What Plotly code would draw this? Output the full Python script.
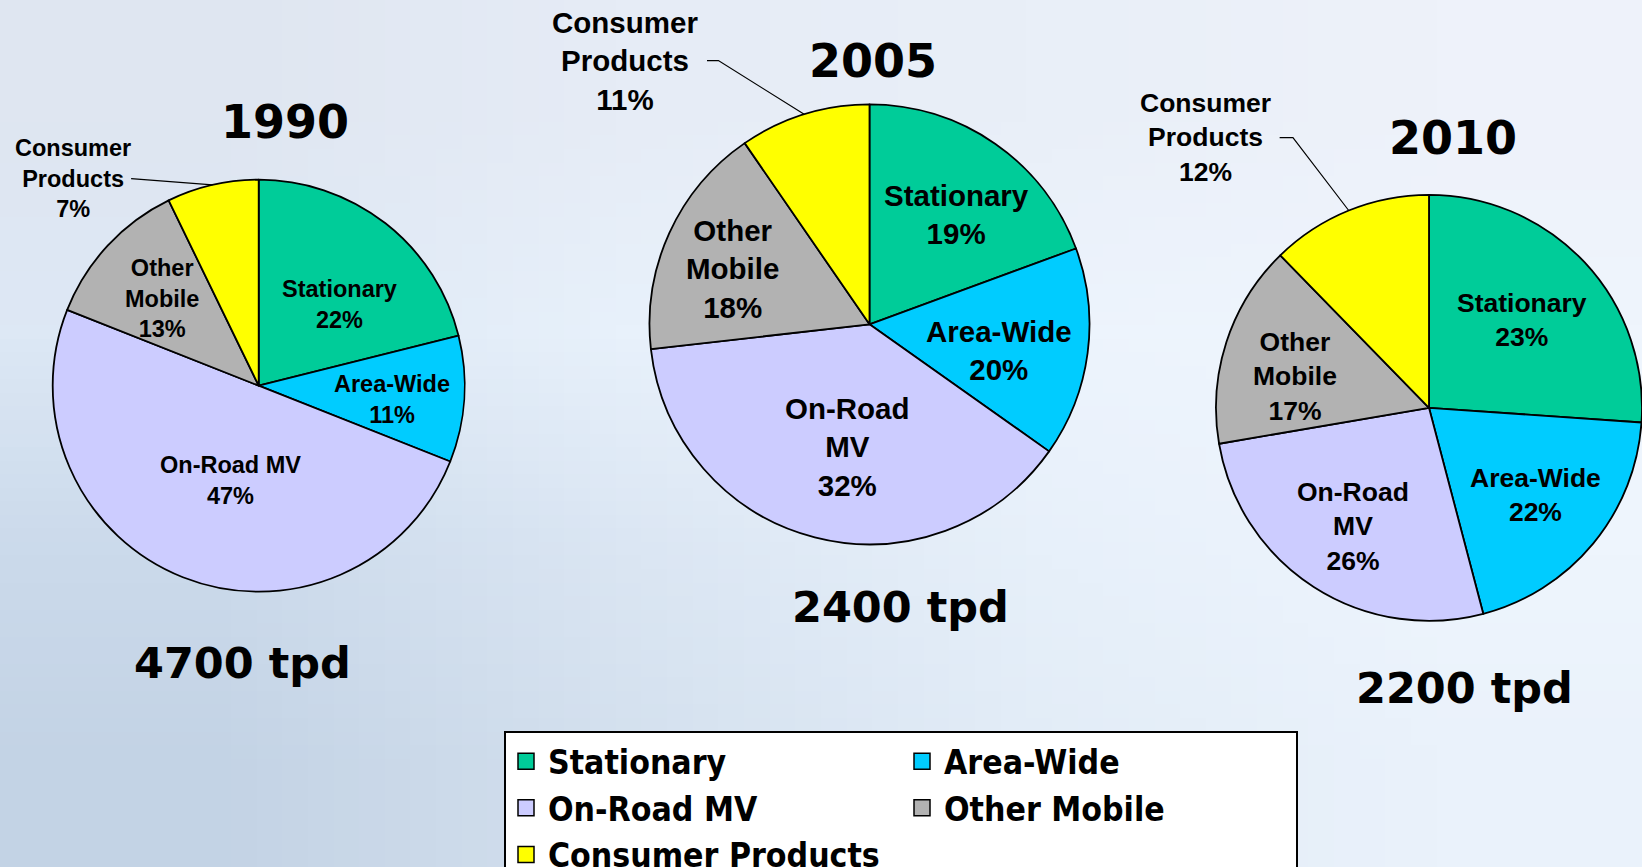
import math
import base64
import struct
import zlib
import plotly.graph_objects as go

# ---------------- data ----------------
categories = ["Stationary", "Area-Wide", "On-Road MV", "Other Mobile", "Consumer Products"]
years = ["1990", "2005", "2010"]
# percentages printed on the slices
pct_label_1990 = [22, 11, 47, 13, 7]
pct_label_2005 = [19, 20, 32, 18, 11]
pct_label_2010 = [23, 22, 26, 17, 12]
# slice sizes as drawn in the picture (%)
slice_1990 = [21.1, 9.9, 50.0, 11.8, 7.2]
slice_2005 = [19.4, 15.4, 38.4, 17.2, 9.6]
slice_2010 = [26.1, 19.8, 26.4, 15.4, 12.3]
totals_tpd = [4700, 2400, 2200]
slice_text_1990 = ["Stationary", "Area-Wide", "On-Road MV", "Other<br>Mobile", "Consumer<br>Products"]
slice_text_2005 = ["Stationary", "Area-Wide", "On-Road<br>MV", "Other<br>Mobile", "Consumer<br>Products"]
slice_text_2010 = ["Stationary", "Area-Wide", "On-Road<br>MV", "Other<br>Mobile", "Consumer<br>Products"]

# ---------------- style ----------------
W, H = 1642, 867
colors = ["#00CC99", "#00CCFF", "#CCCCFF", "#B2B2B2", "#FFFF00"]
legend_columns = ["c1", "c2", "c1", "c2", "c1"]
LABEL_FONT = "Liberation Sans, Arial, sans-serif"
TITLE_FONT = "DejaVu Sans, Verdana, sans-serif"
LEGEND_FONT = "DejaVu Sans Condensed, Liberation Sans Narrow, DejaVu Sans, sans-serif"

pie_style = [
    dict(cx=258.7, cy=385.7, r=206, font=23.5,
         frac=[0.555, 0.649, 0.478, 0.629, 1.35], nudge=[6.7, 2.1, -5.1, -0.8, -28.9],
         title_xy=(284.8, 121.5), total_xy=(243, 663), leader=(58, 0)),
    dict(cx=869.5, cy=324.3, r=220, font=29.5,
         frac=[0.636, 0.601, 0.567, 0.671, 1.633], nudge=[3.3, 3.7, -4.2, -2.5, -25.5],
         title_xy=(873.4, 60.5), total_xy=(900.6, 607.4), leader=(81.5, 11.4)),
    dict(cx=1429, cy=407.8, r=213, font=26.5,
         frac=[0.599, 0.645, 0.659, 0.645, 1.645], nudge=[-0.5, -0.1, -0.2, -4.7, -17.4],
         title_xy=(1452.5, 138.0), total_xy=(1464, 688), leader=(73.7, 13.3)),
]


def px(x):
    return x / W


def py(y):
    return 1 - y / H


# soft sky background as a tiny stretched gradient image
bg_grid = [
    ["#dfe6f1", "#e6ecf6", "#e9eff8", "#eef2fa"],
    ["#dde8f5", "#e8f1fb", "#edf4fd", "#eff5fd"],
    ["#cbdaeb", "#dbe6f3", "#e7f0fa", "#eef5fd"],
    ["#c3d3e5", "#d3e0ee", "#e2ecf7", "#eaf2fb"],
]


def make_png(grid):
    rows = []
    for row in grid:
        line = b"\x00"
        for hx in row:
            line += bytes(int(hx[i:i + 2], 16) for i in (1, 3, 5))
        rows.append(line)
    raw = b"".join(rows)

    def chunk(t, d):
        c = struct.pack(">I", len(d)) + t + d
        return c + struct.pack(">I", zlib.crc32(t + d) & 0xFFFFFFFF)

    h = len(grid)
    w = len(grid[0])
    data = b"\x89PNG\r\n\x1a\n"
    data += chunk(b"IHDR", struct.pack(">IIBBBBB", w, h, 8, 2, 0, 0, 0))
    data += chunk(b"IDAT", zlib.compress(raw))
    data += chunk(b"IEND", b"")
    return "data:image/png;base64," + base64.b64encode(data).decode()


fig = go.Figure()

slices = [slice_1990, slice_2005, slice_2010]
pct_labels = [pct_label_1990, pct_label_2005, pct_label_2010]
slice_texts = [slice_text_1990, slice_text_2005, slice_text_2010]
annotations = []
shapes = []

for k, (year, vals, pcts, texts, st) in enumerate(zip(years, slices, pct_labels, slice_texts, pie_style)):
    cx, cy, r = st["cx"], st["cy"], st["r"]
    fig.add_trace(go.Pie(
        labels=categories, values=vals, name=year,
        customdata=pcts,
        sort=False, direction="clockwise", rotation=0,
        marker=dict(colors=colors, line=dict(color="black", width=1.8)),
        textinfo="none", hovertemplate="%{label}: %{customdata}%<extra>" + year + "</extra>",
        showlegend=False,
        domain=dict(x=[max(0, px(cx - r)), min(1, px(cx + r))],
                    y=[max(0, py(cy + r)), min(1, py(cy - r))]),
    ))
    total = sum(vals)
    cum = 0
    for i, v in enumerate(vals):
        mid = (cum + v / 2) / total * 360
        cum += v
        ang = math.radians(mid + st["nudge"][i])
        lx = cx + st["frac"][i] * r * math.sin(ang)
        ly = cy - st["frac"][i] * r * math.cos(ang)
        annotations.append(dict(
            x=px(lx), y=py(ly), xref="paper", yref="paper",
            text=f"{texts[i]}<br>{pcts[i]}%", showarrow=False,
            xanchor="center", yanchor="middle", align="center",
            font=dict(family=LABEL_FONT, size=st["font"], color="black", weight="bold"),
        ))
        if i == len(vals) - 1:
            m = math.radians(mid)
            ex = cx + r * math.sin(m)
            ey = cy - r * math.cos(m)
            sx = lx + st["leader"][0]
            bx = sx + st["leader"][1]
            shapes.append(dict(
                type="path", xref="paper", yref="paper",
                path=f"M {px(sx)},{py(ly)} L {px(bx)},{py(ly)} L {px(ex)},{py(ey)}",
                line=dict(color="black", width=1.2),
            ))
    tx, ty = st["title_xy"]
    annotations.append(dict(
        x=px(tx), y=py(ty), xref="paper", yref="paper", text=year, showarrow=False,
        xanchor="center", yanchor="middle",
        font=dict(family=TITLE_FONT, size=46, color="black", weight="bold"),
    ))
    qx, qy = st["total_xy"]
    annotations.append(dict(
        x=px(qx), y=py(qy), xref="paper", yref="paper", text=f"{totals_tpd[k]} tpd",
        showarrow=False, xanchor="center", yanchor="middle",
        font=dict(family=TITLE_FONT, size=43, color="black", weight="bold"),
    ))

# legend entries
for cat, col, grp in zip(categories, colors, legend_columns):
    fig.add_trace(go.Scatter(
        x=[None], y=[None], mode="markers", name=cat, legendgroup=grp,
        marker=dict(symbol="square", size=20, color=col, line=dict(color="black", width=1.5)),
        showlegend=True, hoverinfo="skip",
    ))

fig.update_layout(
    width=W, height=H, autosize=False,
    margin=dict(l=0, r=0, t=0, b=0, autoexpand=False),
    paper_bgcolor="#e8f0fa", plot_bgcolor="rgba(0,0,0,0)",
    xaxis=dict(visible=False), yaxis=dict(visible=False),
    showlegend=True,
    legend=dict(
        orientation="h", traceorder="grouped", x=px(504), y=py(731),
        xanchor="left", yanchor="top", bgcolor="white", bordercolor="black", borderwidth=2,
        entrywidth=347, itemwidth=34, tracegroupgap=0,
        font=dict(family=LEGEND_FONT, size=33.5, color="black", weight="bold"),
    ),
    annotations=annotations,
    shapes=shapes,
    images=[dict(source=make_png(bg_grid), xref="paper", yref="paper", x=0, y=1,
                 sizex=1, sizey=1, xanchor="left", yanchor="top", sizing="stretch",
                 layer="below")],
)

page_fix = (
    "document.documentElement.style.margin='0';"
    "document.documentElement.style.overflow='hidden';"
    "document.body.style.margin='0';"
    "document.body.style.overflow='hidden';"
)
fig.write_html("out.html", post_script=page_fix, config={"displayModeBar": False})
